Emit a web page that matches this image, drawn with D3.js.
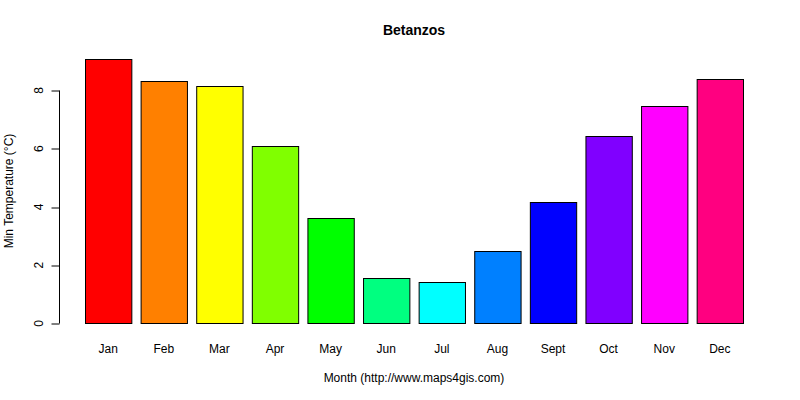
<!DOCTYPE html>
<html>
<head>
<meta charset="utf-8">
<script src="https://cdn.jsdelivr.net/npm/d3@7"></script>
<style>
  body { margin: 0; background: #fff; }
  text { font-family: "Liberation Sans", Arial, sans-serif; fill: #000; }
</style>
</head>
<body>
<svg id="chart" width="800" height="400"></svg>
<script>
// monthly minimum temperature, Betanzos
const months = ["Jan", "Feb", "Mar", "Apr", "May", "Jun", "Jul", "Aug", "Sept", "Oct", "Nov", "Dec"];
const minTemp = [9.07, 8.32, 8.14, 6.08, 3.61, 1.55, 1.41, 2.47, 4.16, 6.43, 7.46, 8.38];
const barColors = ["#FF0000", "#FF8000", "#FFFF00", "#80FF00", "#00FF00", "#00FF80",
                   "#00FFFF", "#0080FF", "#0000FF", "#8000FF", "#FF00FF", "#FF0080"];
const yTicks = [0, 2, 4, 6, 8];

const svg = d3.select("#chart");

const x = d3.scaleBand()
    .domain(months)
    .range([85, 743])
    .paddingInner(1 / 6)
    .paddingOuter(0);

const y = d3.scaleLinear()
    .domain([0, 8])
    .range([323, 90]);

// snap to pixel centre so 1px strokes stay crisp
const py = v => Math.round(y(v)) + 0.5;

// bars
svg.append("g")
    .selectAll("rect")
    .data(months)
    .join("rect")
    .attr("x", d => x(d) + 0.5)
    .attr("y", (d, i) => py(minTemp[i]))
    .attr("width", x.bandwidth())
    .attr("height", (d, i) => py(0) - py(minTemp[i]))
    .attr("fill", (d, i) => barColors[i])
    .attr("stroke", "#000")
    .attr("stroke-width", 1);

// month labels
svg.append("g")
    .attr("font-size", 12)
    .attr("text-anchor", "middle")
    .selectAll("text")
    .data(months)
    .join("text")
    .attr("x", d => x(d) + x.bandwidth() / 2)
    .attr("y", 353)
    .text(d => d);

// y axis
const yAxis = svg.append("g")
    .attr("transform", "translate(59.5,0)")
    .call(d3.axisLeft(y).tickValues(yTicks).tickSize(8).tickPadding(0).tickFormat(d3.format("d")));
yAxis.select(".domain")
    .attr("d", `M0,${py(8)}V${py(0)}`)
    .attr("stroke", "#000");
yAxis.selectAll(".tick line")
    .attr("stroke", "#000")
    .attr("transform", d => `translate(0,${py(d) - y(d)})`);
yAxis.selectAll(".tick text")
    .attr("font-size", 12)
    .attr("font-family", "Liberation Sans, Arial, sans-serif")
    .attr("text-anchor", "middle")
    .attr("dy", null)
    .attr("x", null)
    .attr("transform", "translate(-17,0) rotate(-90)");

// titles
svg.append("text")
    .attr("x", 414)
    .attr("y", 35)
    .attr("text-anchor", "middle")
    .attr("font-size", 14)
    .attr("font-weight", "bold")
    .text("Betanzos");

svg.append("text")
    .attr("x", 414)
    .attr("y", 382)
    .attr("text-anchor", "middle")
    .attr("font-size", 12)
    .text("Month (http://www.maps4gis.com)");

svg.append("text")
    .attr("transform", "translate(13,191) rotate(-90)")
    .attr("text-anchor", "middle")
    .attr("font-size", 12)
    .text("Min Temperature (°C)");
</script>
</body>
</html>
